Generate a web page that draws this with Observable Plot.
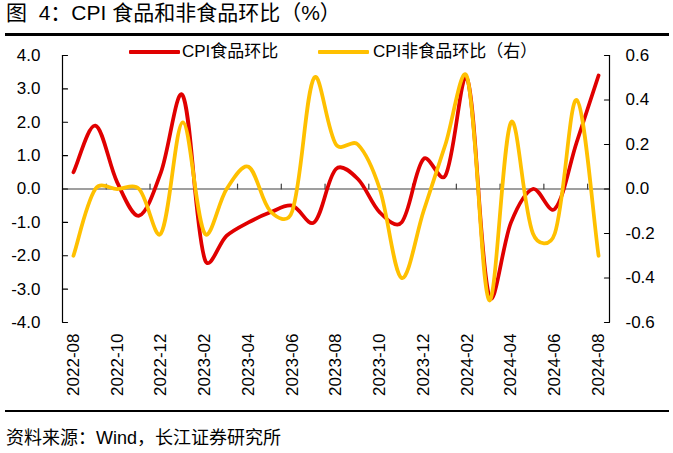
<!DOCTYPE html>
<html>
<head>
<meta charset="utf-8">
<script src="https://cdn.jsdelivr.net/npm/d3@7"></script>
<script src="https://cdn.jsdelivr.net/npm/@observablehq/plot@0.6"></script>
<style>
  body { margin: 0; background: #fff; width: 673px; height: 453px; position: relative; overflow: hidden;
         font-family: 'Liberation Sans', Arial, 'Noto Sans CJK SC', sans-serif; color: #000; }
  #title { position: absolute; left: 6px; top: 0px; font-size: 21px; line-height: 25px; white-space: nowrap; }
  #rule1 { position: absolute; left: 5px; width: 664px; top: 32.5px; height: 3px; background: #000; }
  #chart { position: absolute; left: 0; top: 36px; }
  .leg { position: absolute; top: 42px; font-size: 17px; line-height: 20px; white-space: nowrap; }
  .sw { position: absolute; top: 50px; height: 4px; border-radius: 1px; }
  #rule2 { position: absolute; left: 5px; width: 664px; top: 409.5px; height: 2.5px; background: #000; }
  #source { position: absolute; left: 6px; top: 426px; font-size: 18px; line-height: 24px; white-space: nowrap; }
</style>
</head>
<body>
<div id="title">图&nbsp;&nbsp;4：CPI 食品和非食品环比（%）</div>
<div id="rule1"></div>
<div class="sw" style="left:129px;width:51px;background:#E00000"></div>
<div class="leg" style="left:182px">CPI食品环比</div>
<div class="sw" style="left:318px;width:51px;background:#FFC000"></div>
<div class="leg" style="left:373px">CPI非食品环比（右）</div>
<div id="chart"></div>
<div id="rule2"></div>
<div id="source">资料来源：Wind，长江证券研究所</div>
<script>
// ---- data ----
const months = ["2022-08","2022-09","2022-10","2022-11","2022-12","2023-01","2023-02","2023-03","2023-04",
  "2023-05","2023-06","2023-07","2023-08","2023-09","2023-10","2023-11","2023-12","2024-01","2024-02",
  "2024-03","2024-04","2024-05","2024-06","2024-07","2024-08"];
const food = [0.5, 1.9, 0.2, -0.8, 0.5, 2.8, -2.1, -1.4, -1.0, -0.7, -0.5, -1.0, 0.6, 0.3, -0.7, -1.0,
  0.9, 0.4, 3.3, -3.2, -1.0, 0.0, -0.6, 1.4, 3.4];
const nonFood = [-0.3, 0.0, 0.0, 0.0, -0.2, 0.3, -0.2, 0.0, 0.1, -0.1, -0.1, 0.5, 0.2, 0.2, 0.0, -0.4,
  -0.1, 0.2, 0.5, -0.5, 0.3, -0.2, -0.2, 0.4, -0.3];
const leftTicks = [-4, -3, -2, -1, 0, 1, 2, 3, 4];
const rightTicks = [-0.6, -0.4, -0.2, 0, 0.2, 0.4, 0.6];
const leftDomain = [-4, 4];
const rightDomain = [-0.6, 0.6];

// ---- Excel-like smoothed curve (blend of uniform and chord-weighted Catmull-Rom Bezier) ----
function SmoothCurve(context) { this._context = context; }
SmoothCurve.prototype = {
  areaStart() { this._line = 0; },
  areaEnd() { this._line = NaN; },
  lineStart() { this._pts = []; },
  point(x, y) { this._pts.push([+x, +y]); },
  lineEnd() {
    const p = this._pts, c = this._context, n = p.length;
    if (!n) return;
    c.moveTo(p[0][0], p[0][1]);
    const dist = (a, b) => Math.hypot(b[0] - a[0], b[1] - a[1]);
    for (let i = 0; i < n - 1; i++) {
      const p0 = p[Math.max(i - 1, 0)], p1 = p[i], p2 = p[i + 1], p3 = p[Math.min(i + 2, n - 1)];
      const d01 = dist(p0, p1), d12 = dist(p1, p2), d23 = dist(p2, p3);
      const w1 = d01 + d12 ? d12 / (d01 + d12) : 0.5;
      const w2 = d12 + d23 ? d12 / (d12 + d23) : 0.5;
      const f1 = (0.5 * w1 + 0.25) / 3;
      const f2 = (0.5 * w2 + 0.25) / 3;
      c.bezierCurveTo(
        p1[0] + (p2[0] - p0[0]) * f1, p1[1] + (p2[1] - p0[1]) * f1,
        p2[0] - (p3[0] - p1[0]) * f2, p2[1] - (p3[1] - p1[1]) * f2,
        p2[0], p2[1]);
    }
  }
};
const smooth = (ctx) => new SmoothCurve(ctx);

// ---- build ----
const K = leftDomain[1] / rightDomain[1];
const rows = months.map((m, i) => ({i, m, food: food[i], nonFood: nonFood[i]}));
const x0 = -0.5, x1 = months.length - 0.5;
const labelIdx = d3.range(0, months.length, 2);
const catTicks = d3.range(1.5, months.length - 1, 2);
const tickShape = {draw(c, l) { c.moveTo(0, 0); c.lineTo(0, -l); }};
const font = "'Liberation Sans', Arial, 'Noto Sans CJK SC', sans-serif";

const chart = Plot.plot({
  width: 673, height: 370,
  marginLeft: 62, marginRight: 64, marginTop: 19, marginBottom: 84,
  x: {type: "linear", domain: [x0, x1]},
  y: {domain: leftDomain},
  style: {fontFamily: font, fontSize: "17px", color: "#000", background: "transparent", overflow: "visible"},
  marks: [
    Plot.ruleY([0], {stroke: "#404040", strokeWidth: 1.2}),
    Plot.vector(catTicks, {x: d => d, y: 0, length: 5, rotate: 0, anchor: "start", shape: tickShape, stroke: "#404040", strokeWidth: 1.2}),
    Plot.ruleX([x0, x1], {y1: leftDomain[0], y2: leftDomain[1], stroke: "#000", strokeWidth: 1.2}),
    Plot.vector(leftTicks, {x: x0, y: d => d, length: 5, rotate: 90, anchor: "start", shape: tickShape, stroke: "#000", strokeWidth: 1.2}),
    Plot.vector(rightTicks, {x: x1, y: d => d * K, length: 5, rotate: -90, anchor: "start", shape: tickShape, stroke: "#000", strokeWidth: 1.2}),
    Plot.axisY(leftTicks, {anchor: "left", tickSize: 0, tickPadding: 22, tickFormat: d => d.toFixed(1), fontSize: 17, label: null}),
    Plot.axisY(rightTicks.map(v => v * K), {anchor: "right", tickSize: 0, tickPadding: 16, tickFormat: d => (d / K).toFixed(1), fontSize: 17, label: null}),
    Plot.axisX(labelIdx, {anchor: "bottom", tickSize: 0, tickPadding: 11, tickRotate: -90, tickFormat: i => months[i], fontSize: 17, label: null}),
    Plot.line(rows, {x: "i", y: "food", curve: smooth, stroke: "#E00000", strokeWidth: 3.75}),
    Plot.line(rows, {x: "i", y: d => d.nonFood * K, curve: smooth, stroke: "#FFC000", strokeWidth: 3.75})
  ]
});
document.getElementById("chart").appendChild(chart);
</script>
</body>
</html>
